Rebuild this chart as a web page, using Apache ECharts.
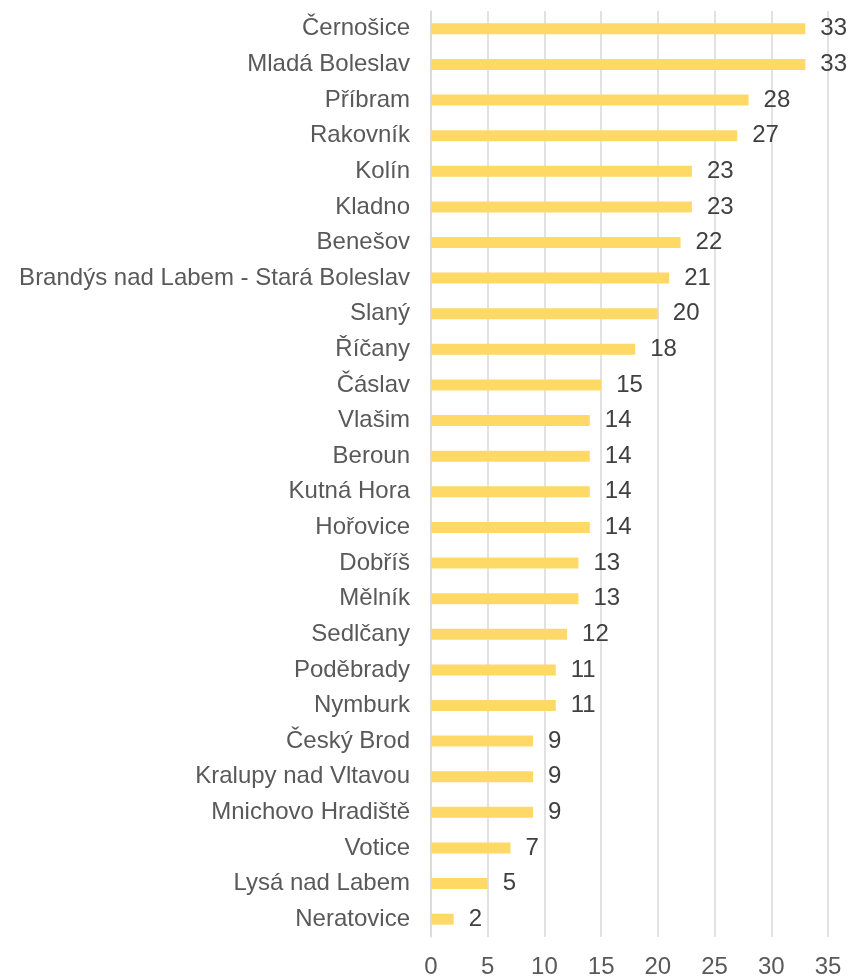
<!DOCTYPE html>
<html style="height: 100%">
<head>
    <title>Chart</title>
    <meta charset="utf-8">
</head>
<body style="height: 100%; margin: 0; background: #fff">
<div id="container" style="height:979px;width: 852px"></div>
<script src="https://cdn.jsdelivr.net/npm/echarts@6/dist/echarts.min.js"></script>
<script type="text/javascript">
    // categories listed bottom to top (as the y axis draws them)
    var towns = ['Neratovice', 'Lysá nad Labem', 'Votice', 'Mnichovo Hradiště', 'Kralupy nad Vltavou',
        'Český Brod', 'Nymburk', 'Poděbrady', 'Sedlčany', 'Mělník', 'Dobříš', 'Hořovice', 'Kutná Hora',
        'Beroun', 'Vlašim', 'Čáslav', 'Říčany', 'Slaný', 'Brandýs nad Labem - Stará Boleslav', 'Benešov',
        'Kladno', 'Kolín', 'Rakovník', 'Příbram', 'Mladá Boleslav', 'Černošice'];
    var counts = [2, 5, 7, 9, 9, 9, 11, 11, 12, 13, 13, 14, 14, 14, 14, 15, 18, 20, 21, 22, 23, 23, 27, 28, 33, 33];

    var dom = document.getElementById("container");
    var myChart = echarts.init(dom);
    myChart.setOption({
        animation: false,
        textStyle: {fontFamily: 'Liberation Sans, Arial, sans-serif'},
        grid: {left: 431, right: 24, top: 11, bottom: 42, containLabel: false},
        xAxis: {
            type: 'value',
            min: 0,
            max: 35,
            interval: 5,
            axisLine: {show: false},
            axisTick: {show: false},
            splitLine: {lineStyle: {color: '#d9d9d9', width: 1.5}},
            axisLabel: {color: '#595959', fontSize: 24, margin: 18}
        },
        yAxis: {
            type: 'category',
            data: towns,
            axisLine: {lineStyle: {color: '#d9d9d9', width: 1.5}},
            axisTick: {show: false},
            axisLabel: {color: '#595959', fontSize: 24, margin: 21}
        },
        series: [{
            type: 'bar',
            data: counts,
            barWidth: 11,
            itemStyle: {color: '#ffd966'},
            label: {
                show: true,
                position: 'right',
                distance: 15,
                color: '#404040',
                fontSize: 24
            }
        }]
    });
</script>
</body>
</html>
